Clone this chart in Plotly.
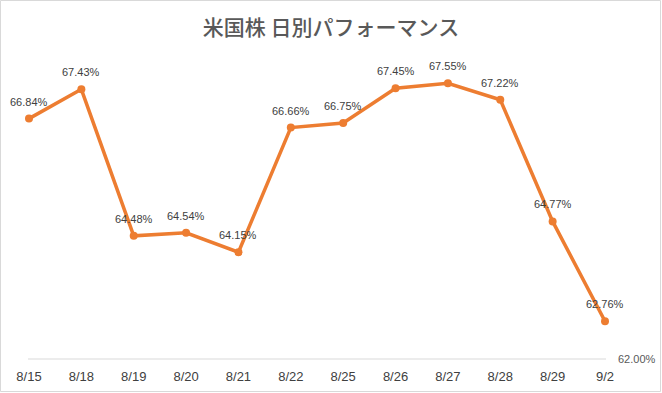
import plotly.graph_objects as go

categories = ["8/15", "8/18", "8/19", "8/20", "8/21", "8/22", "8/25", "8/26", "8/27", "8/28", "8/29", "9/2"]
values = [66.84, 67.43, 64.48, 64.54, 64.15, 66.66, 66.75, 67.45, 67.55, 67.22, 64.77, 62.76]
labels = [f"{v:.2f}%" for v in values]
title = "米国株 日別パフォーマンス"
y_min, y_max = 62, 68

W, H = 662, 393
ml, mr, mt, mb = 29, 57, 61, 34

xs = list(range(len(categories)))
fig = go.Figure()
fig.add_trace(go.Scatter(
    x=xs, y=values,
    mode="lines+markers",
    line=dict(color="#ED7D31", width=3.5),
    marker=dict(color="#ED7D31", size=8),
    cliponaxis=False, showlegend=False, hoverinfo="skip",
))

annotations = [
    dict(x=x, y=v, xref="x", yref="y", text=t, showarrow=False, yshift=17,
         xanchor="center", yanchor="middle",
         font=dict(family="Liberation Sans, Arial", size=11, color="#404040"))
    for x, v, t in zip(xs, values, labels)
]

pw = W - ml - mr
ph = H - mt - mb
fig.update_layout(
    width=W, height=H,
    margin=dict(l=ml, r=mr, t=mt, b=mb, autoexpand=False),
    paper_bgcolor="white", plot_bgcolor="white",
    title=dict(text=title, x=0.5, xanchor="center", y=1 - 28 / H, yanchor="middle",
               font=dict(family="Noto Sans CJK JP", size=21, color="#595959", weight=500)),
    xaxis=dict(range=[0, 11], tickvals=xs, ticktext=categories,
               showgrid=False, zeroline=False, showline=False, ticks="", automargin=False,
               ticklabelstandoff=8,
               tickfont=dict(family="Liberation Sans, Arial", size=13, color="#404040")),
    yaxis=dict(range=[y_min, y_max], side="right", tickvals=[y_min], ticktext=[f"{y_min:.2f}%"],
               showgrid=False, zeroline=False, showline=False, automargin=False,
               ticklabelstandoff=12,
               tickfont=dict(family="Liberation Sans, Arial", size=11, color="#595959")),
    annotations=annotations,
    shapes=[
        dict(type="line", xref="paper", yref="paper", x0=-1 / pw, x1=1 + 1 / pw, y0=0, y1=0,
             line=dict(color="#D9D9D9", width=1), layer="below"),
        dict(type="rect", xref="paper", yref="paper",
             x0=-(ml - 0.5) / pw, x1=1 + (mr - 1.5) / pw,
             y0=-(mb - 1.5) / ph, y1=1 + (mt - 0.5) / ph,
             line=dict(color="#D9D9D9", width=1), fillcolor="rgba(0,0,0,0)")],
)
fig.write_html("out.html", config={"displayModeBar": False},
               post_script="document.body.style.margin='0';")
